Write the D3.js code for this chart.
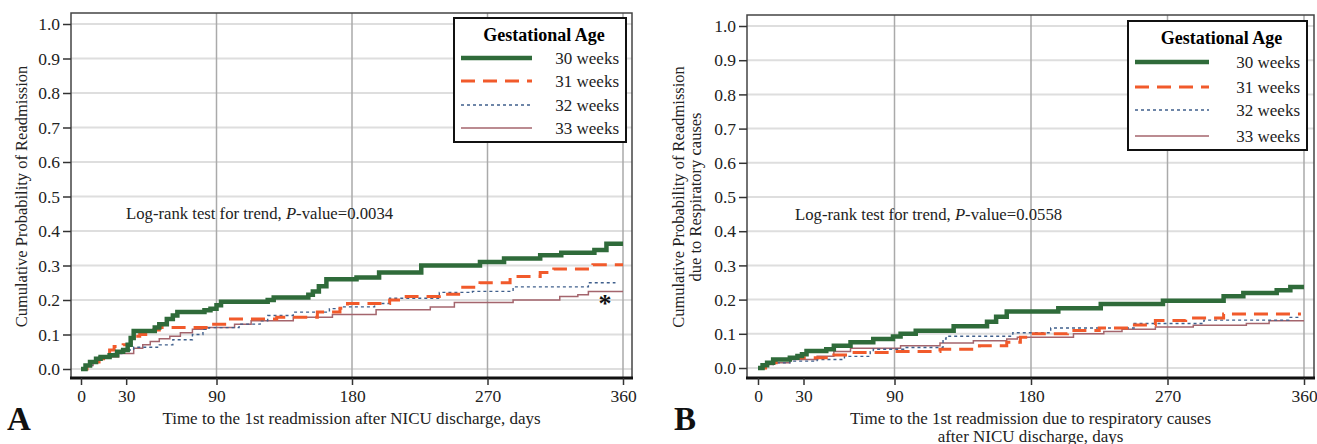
<!DOCTYPE html>
<html>
<head>
<meta charset="utf-8">
<script src="https://cdn.jsdelivr.net/npm/d3@7"></script>
<style>
  body { margin: 0; background: #fff; }
  svg { display: block; }
  svg text { font-family: "Liberation Serif", "Times New Roman", serif !important; }
  .axis path { display: none; }
  .axis line { stroke: #333; stroke-width: 1.5; }
  .axis text { font-size: 17.5px; fill: #222; }
</style>
</head>
<body>
<svg id="chart" width="1317" height="444"></svg>
<script>
// step points [day, cumulative probability]
const a30 = [[0,0],[3,0.01],[6,0.02],[10,0.03],[13,0.035],[19,0.04],[24,0.05],[28,0.055],[31,0.07],[33,0.09],[35,0.11],[49,0.12],[52,0.13],[57,0.145],[61,0.155],[64,0.165],[82,0.17],[86,0.175],[90,0.185],[93,0.195],[124,0.2],[128,0.207],[151,0.215],[154,0.225],[158,0.24],[163,0.26],[183,0.265],[198,0.28],[226,0.3],[265,0.31],[281,0.32],[305,0.33],[319,0.337],[341,0.345],[349,0.363],[360,0.363]];
const a31 = [[0,0],[4,0.01],[8,0.02],[12,0.03],[15,0.04],[19,0.055],[22,0.065],[28,0.07],[33,0.085],[36,0.095],[39,0.1],[43,0.108],[46,0.113],[52,0.12],[85,0.13],[97,0.145],[130,0.15],[157,0.165],[172,0.176],[177,0.19],[205,0.2],[216,0.21],[238,0.217],[252,0.237],[265,0.25],[285,0.268],[305,0.28],[314,0.29],[340,0.302],[360,0.302]];
const a32 = [[0,0],[4,0.01],[8,0.02],[12,0.035],[20,0.045],[28,0.055],[35,0.063],[52,0.07],[61,0.085],[74,0.1],[81,0.115],[85,0.12],[105,0.13],[119,0.14],[124,0.155],[141,0.165],[165,0.175],[172,0.18],[195,0.19],[205,0.205],[238,0.222],[260,0.225],[287,0.238],[337,0.25],[355,0.25]];
const a33 = [[0,0],[4,0.01],[8,0.02],[12,0.035],[25,0.045],[35,0.06],[41,0.07],[46,0.08],[52,0.088],[59,0.095],[66,0.105],[74,0.115],[83,0.12],[102,0.13],[113,0.14],[141,0.15],[167,0.158],[196,0.172],[232,0.18],[248,0.193],[287,0.2],[318,0.21],[330,0.215],[337,0.225],[360,0.225]];

const b30 = [[0,0],[3,0.008],[6,0.015],[10,0.025],[21,0.03],[26,0.035],[29,0.04],[32,0.05],[45,0.055],[50,0.065],[61,0.075],[76,0.085],[89,0.092],[94,0.1],[104,0.109],[129,0.122],[151,0.135],[157,0.15],[164,0.165],[198,0.175],[226,0.187],[267,0.197],[307,0.21],[320,0.219],[342,0.227],[351,0.237],[360,0.237]];
const b31 = [[0,0],[5,0.01],[12,0.025],[21,0.03],[50,0.038],[61,0.045],[89,0.048],[120,0.055],[146,0.065],[164,0.075],[173,0.09],[178,0.1],[204,0.11],[225,0.117],[243,0.126],[262,0.139],[282,0.146],[307,0.158],[358,0.158]];
const b32 = [[0,0],[5,0.01],[10,0.015],[21,0.02],[39,0.025],[57,0.034],[74,0.048],[76,0.055],[96,0.06],[122,0.085],[124,0.093],[168,0.103],[193,0.117],[248,0.13],[294,0.14],[350,0.148],[358,0.148]];
const b33 = [[0,0],[5,0.01],[10,0.015],[21,0.025],[39,0.034],[50,0.048],[61,0.058],[94,0.065],[120,0.073],[142,0.08],[164,0.085],[171,0.09],[208,0.1],[228,0.107],[240,0.113],[262,0.12],[287,0.125],[322,0.13],[337,0.138],[360,0.138]];

const groups = ['30 weeks', '31 weeks', '32 weeks', '33 weeks'];
const xTicks = [0, 30, 90, 180, 270, 360];
const xGrid = [90, 180, 270, 360];
const yTicks = [0, 0.1, 0.2, 0.3, 0.4, 0.5, 0.6, 0.7, 0.8, 0.9, 1.0];

const styles = [
  { color: '#2f6b3a', width: 4.5, dash: null },
  { color: '#f15a2b', width: 3, dash: '14,8' },
  { color: '#3f5f8c', width: 1.4, dash: '3,3' },
  { color: '#a4656d', width: 1.5, dash: null }
];

const svg = d3.select('#chart');

function drawPanel(p) {
  const x = d3.scaleLinear().domain([0, 360]).range([p.x0, p.x1]);
  const y = d3.scaleLinear().domain([0, 1]).range([p.y0, p.y1]);
  const g = svg.append('g');

  // horizontal grid
  g.selectAll('.hg').data(yTicks).enter().append('line')
    .attr('x1', p.left).attr('x2', p.right)
    .attr('y1', d => y(d)).attr('y2', d => y(d))
    .attr('stroke', '#dedede').attr('stroke-width', 2);
  // vertical grid
  g.selectAll('.vg').data(xGrid).enter().append('line')
    .attr('x1', d => x(d)).attr('x2', d => x(d))
    .attr('y1', p.top).attr('y2', p.bottom)
    .attr('stroke', '#aaa').attr('stroke-width', 1.5);

  // frame
  g.append('rect')
    .attr('x', p.left).attr('y', p.top)
    .attr('width', p.right - p.left).attr('height', p.bottom - p.top)
    .attr('fill', 'none').attr('stroke', '#444').attr('stroke-width', 1.5);
  g.append('line')
    .attr('x1', p.left - 1).attr('x2', p.right + 1)
    .attr('y1', p.bottom).attr('y2', p.bottom)
    .attr('stroke', '#111').attr('stroke-width', 3);

  // axes
  g.append('g').attr('class', 'axis')
    .attr('transform', 'translate(' + p.left + ',0)')
    .call(d3.axisLeft(y).tickValues(yTicks).tickFormat(d3.format('.1f')).tickSize(8).tickPadding(3));
  g.append('g').attr('class', 'axis')
    .attr('transform', 'translate(0,' + p.bottom + ')')
    .call(d3.axisBottom(x).tickValues(xTicks).tickSize(7).tickPadding(5));

  // curves
  const line = d3.line().x(d => x(d[0])).y(d => y(d[1])).curve(d3.curveStepAfter);
  p.series.slice().reverse().forEach((s, i) => {
    const st = styles[p.series.length - 1 - i];
    g.append('path').datum(s)
      .attr('d', line)
      .attr('fill', 'none')
      .attr('stroke', st.color)
      .attr('stroke-width', st.width)
      .attr('stroke-dasharray', st.dash);
  });

  // legend
  const L = p.legend;
  g.append('rect').attr('x', L.x).attr('y', L.y).attr('width', L.w).attr('height', L.h)
    .attr('fill', '#fff').attr('stroke', '#111').attr('stroke-width', 2);
  g.append('text').attr('x', L.x + L.w / 2 + 4).attr('y', L.y + 23)
    .attr('text-anchor', 'middle').attr('font-size', 18).attr('font-weight', 'bold')
    .text('Gestational Age');
  groups.forEach((name, i) => {
    const yy = L.y + L.rows[i];
    g.append('line').attr('x1', L.x + 7).attr('x2', L.x + L.lineW)
      .attr('y1', yy).attr('y2', yy)
      .attr('stroke', styles[i].color).attr('stroke-width', styles[i].width)
      .attr('stroke-dasharray', styles[i].dash);
    g.append('text').attr('x', L.x + L.w - 7).attr('y', yy + 5.5)
      .attr('text-anchor', 'end').attr('font-size', 17).attr('fill', '#222')
      .text(name);
  });

  // log-rank annotation
  const t = g.append('text').attr('x', p.note[0]).attr('y', p.note[1]).attr('font-size', 16.7).attr('fill', '#222');
  t.append('tspan').text('Log-rank test for trend, ');
  t.append('tspan').attr('font-style', 'italic').text('P');
  t.append('tspan').text('-value=' + p.pval);

  // y title
  const yt = g.append('text').attr('font-size', 16.5).attr('fill', '#222').attr('text-anchor', 'middle')
    .attr('transform', 'translate(' + p.ytx + ',' + (p.y0 + p.y1) / 2 + ') rotate(-90)');
  p.ytitle.forEach((s, i) => {
    yt.append('tspan').attr('x', 0).attr('dy', i === 0 ? 0 : 17).text(s);
  });

  // x title
  p.xtitle.forEach((s, i) => {
    g.append('text').attr('x', (p.left + p.right) / 2 + p.xtOff).attr('y', 424 + i * 17.5)
      .attr('text-anchor', 'middle').attr('font-size', 17).attr('fill', '#222').text(s);
  });

  // panel letter
  g.append('text').attr('x', p.letter[0]).attr('y', 430)
    .attr('font-size', 33).attr('font-weight', 'bold').attr('fill', '#111').text(p.letter[1]);

  return { x, y, g };
}

const A = drawPanel({
  left: 71, right: 632, top: 13, bottom: 378,
  x0: 81, x1: 623, y0: 369, y1: 24,
  series: [a30, a31, a32, a33],
  legend: { x: 454, y: 18, w: 172, h: 124, lineW: 78, rows: [40, 63, 87, 110] },
  note: [126, 219], pval: '0.0034',
  ytitle: ['Cumulative Probability of Readmission'], ytx: 27,
  xtitle: ['Time to the 1st readmission after NICU discharge, days'], xtOff: 0,
  letter: [7, 'A']
});
A.g.append('text').attr('x', A.x(348)).attr('y', A.y(0.2) + 12)
  .attr('text-anchor', 'middle').attr('font-size', 26).attr('font-weight', 'bold').attr('fill', '#111').text('*');

drawPanel({
  left: 747, right: 1314, top: 15, bottom: 378,
  x0: 758, x1: 1304, y0: 368, y1: 26,
  series: [b30, b31, b32, b33],
  legend: { x: 1128, y: 21, w: 179, h: 129, lineW: 81, rows: [41, 66, 89, 115] },
  note: [795, 220], pval: '0.0558',
  ytitle: ['Cumulative Probability of Readmission', 'due to Respiratory causes'], ytx: 684,
  xtitle: ['Time to the 1st readmission due to respiratory causes', 'after NICU discharge, days'], xtOff: 0,
  letter: [674, 'B']
});
</script>
</body>
</html>
